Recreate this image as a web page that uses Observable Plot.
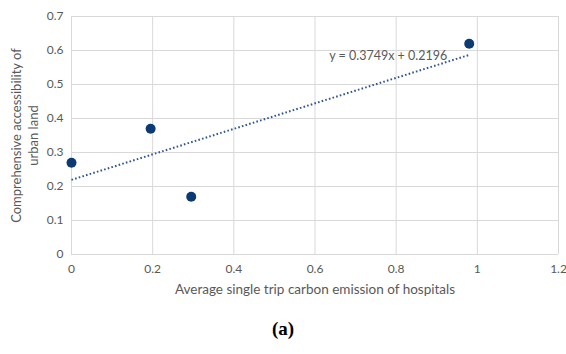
<!DOCTYPE html>
<html>
<head>
<meta charset="utf-8">
<script src="https://cdn.jsdelivr.net/npm/d3@7"></script>
<script src="https://cdn.jsdelivr.net/npm/@observablehq/plot@0.6"></script>
<style>
  html, body { margin: 0; padding: 0; background: #fff; }
  #chart { width: 566px; }
  #chart svg { display: block; }
  .caption { width: 566px; margin-top: 12px; text-align: center; line-height: 22px;
    font: bold 19px "Liberation Serif", "DejaVu Serif", serif; color: #000; }
</style>
</head>
<body>
<div id="chart"></div>
<div class="caption">(a)</div>
<script>
// Hospital samples: carbon emission per trip vs. accessibility of urban land
const carbonEmission = [0, 0.195, 0.295, 0.98];
const accessibility = [0.27, 0.37, 0.17, 0.62];

// Linear trend reported on the chart
const slope = 0.3749;
const intercept = 0.2196;
const equationLabel = "y = 0.3749x + 0.2196";

const xTicks = [0, 0.2, 0.4, 0.6, 0.8, 1, 1.2];
const yTicks = [0, 0.1, 0.2, 0.3, 0.4, 0.5, 0.6, 0.7];

const xTitle = "Average single trip carbon emission of hospitals";
const yTitle = "Comprehensive accessibility of\nurban land";

const points = carbonEmission.map((x, i) => ({x, y: accessibility[i]}));
const xExtent = d3.extent(carbonEmission);
const trend = xExtent.map(x => ({x, y: slope * x + intercept}));

const textColor = "#595959";
const font = "Lato, 'Open Sans', sans-serif";
const fmt = d => String(d);

const plot = Plot.plot({
  width: 566,
  height: 306,
  marginLeft: 71,
  marginRight: 8,
  marginTop: 16,
  marginBottom: 52,
  style: {fontFamily: font, fontSize: "12px", color: textColor, background: "#fff"},
  x: {domain: [0, 1.2]},
  y: {domain: [0, 0.7]},
  marks: [
    Plot.gridX(xTicks, {stroke: "#d9d9d9", strokeOpacity: 1, strokeWidth: 1}),
    Plot.gridY(yTicks, {stroke: "#d9d9d9", strokeOpacity: 1, strokeWidth: 1}),
    Plot.axisX(xTicks, {tickSize: 0, tickPadding: 10, tickFormat: fmt, label: null, fill: textColor}),
    Plot.axisY(yTicks, {tickSize: 0, tickPadding: 8, tickFormat: fmt, label: null, fill: textColor}),
    Plot.line(trend, {x: "x", y: "y", stroke: "#2f5597", strokeWidth: 2,
      strokeDasharray: "1.6 2.2", strokeLinecap: "butt"}),
    Plot.dot(points, {x: "x", y: "y", r: 5, fill: "#0b3a75", stroke: "none"}),
    Plot.text([equationLabel], {x: 0.635, y: 0.585, text: d => d, textAnchor: "start",
      fill: textColor, fontSize: 12.5}),
    Plot.text([xTitle], {frameAnchor: "bottom", dy: 39, text: d => d,
      fill: textColor, fontSize: 13.5}),
    Plot.text([yTitle], {frameAnchor: "left", dx: -47, rotate: -90, textAnchor: "middle",
      text: d => d, fill: textColor, fontSize: 13, lineHeight: 1.3})
  ]
});

document.getElementById("chart").appendChild(plot);
</script>
</body>
</html>
